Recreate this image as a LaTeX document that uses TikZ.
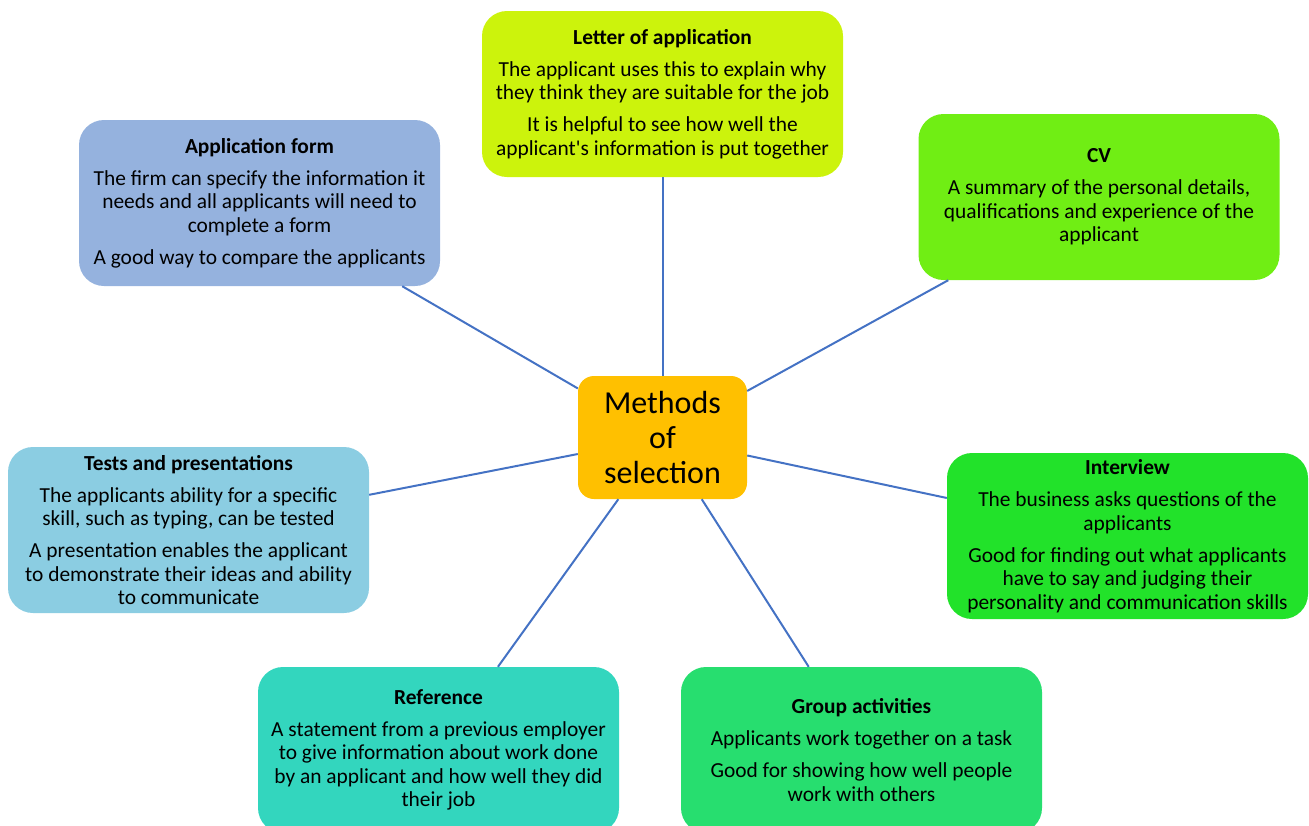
\documentclass[tikz,border=0pt]{standalone}
\usepackage{fontspec}
\setmainfont{Carlito}
\definecolor{letterfill}{RGB}{204,243,12}
\definecolor{formfill}{RGB}{149,178,222}
\definecolor{cvfill}{RGB}{112,238,20}
\definecolor{testfill}{RGB}{139,205,226}
\definecolor{interviewfill}{RGB}{34,226,42}
\definecolor{reffill}{RGB}{51,214,190}
\definecolor{groupfill}{RGB}{39,222,111}
\definecolor{hubfill}{RGB}{255,192,0}
\definecolor{linkblue}{RGB}{68,114,196}
\begin{document}
\begin{tikzpicture}[
  x=1pt,y=-1pt,
  every node/.style={align=center},
  block/.style={rounded corners=25pt,minimum width=361pt,minimum height=166pt,inner sep=0pt,
    font=\fontsize{21.4}{23.5}\selectfont},
  hub/.style={rounded corners=16pt,fill=hubfill,minimum width=169pt,minimum height=123pt,inner sep=0pt,
    font=\fontsize{32}{35}\selectfont},
  link/.style={draw=linkblue,line width=2pt}]

  % Page size of the reference
  \clip (0,0) rectangle (1309,825);

  % The centre and the methods round it
  \node[hub] (Hub) at (662.5,437.5) {Methods\\ of\\ selection};
  \node[block,fill=letterfill] (Letter) at (662.5,94) {\textbf{Letter of application}\\[8.5pt]
    The applicant uses this to explain why\\ they think they are suitable for the job\\[8.5pt]
    It is helpful to see how well the\\ applicant\textquotesingle s information is put together};
  \node[block,fill=formfill] (Form) at (259.5,203) {\textbf{Application form}\\[8.5pt]
    The firm can specify the information it\\ needs and all applicants will need to\\ complete a form\\[8.5pt]
    A good way to compare the applicants};
  \node[block,fill=cvfill] (CV) at (1099,197) {\textbf{CV}\\[8.5pt]
    A summary of the personal details,\\ qualifications and experience of the\\ applicant};
  \node[block,fill=testfill] (Tests) at (188.5,530) {\textbf{Tests and presentations}\\[8.5pt]
    The applicants ability for a specific\\ skill, such as typing, can be tested\\[8.5pt]
    A presentation enables the applicant\\ to demonstrate their ideas and ability\\ to communicate};
  \node[block,fill=interviewfill] (Interview) at (1127.5,536) {\textbf{Interview}\\[8.5pt]
    The business asks questions of the\\ applicants\\[8.5pt]
    Good for finding out what applicants\\ have to say and judging their\\ personality and communication skills};
  \node[block,fill=reffill] (Reference) at (438.5,750) {\textbf{Reference}\\[8.5pt]
    A statement from a previous employer\\ to give information about work done\\ by an applicant and how well they did\\ their job};
  \node[block,fill=groupfill] (Group) at (861.5,750) {\textbf{Group activities}\\[8.5pt]
    Applicants work together on a task\\[8.5pt]
    Good for showing how well people\\ work with others};

  % Spokes from the centre
  \draw[link] (Hub) -- (Letter);
  \draw[link] (Hub) -- (Form);
  \draw[link] (Hub) -- (CV);
  \draw[link] (Hub) -- (Tests);
  \draw[link] (Hub) -- (Interview);
  \draw[link] (Hub) -- (Reference);
  \draw[link] (Hub) -- (Group);
\end{tikzpicture}
\end{document}
